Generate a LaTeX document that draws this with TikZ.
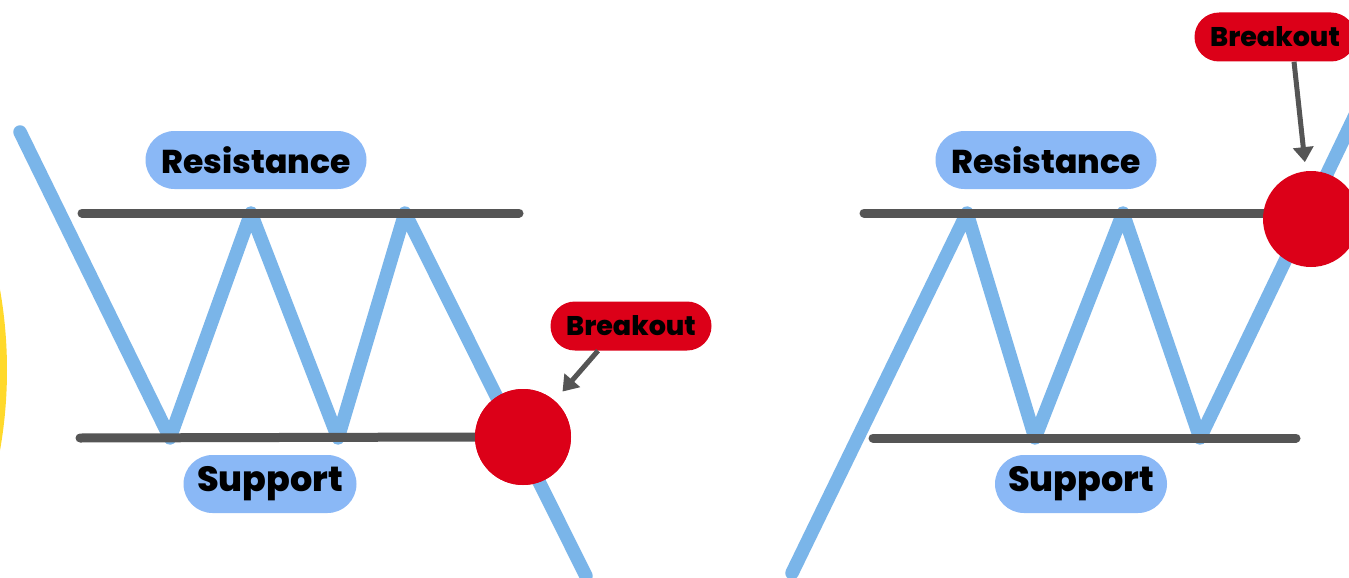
\documentclass[tikz,border=0pt]{standalone}
\usepackage{fontspec}
\newfontfamily\labelfont{Poppins}[BoldFont={Poppins ExtraBold}]
\usetikzlibrary{arrows.meta}
\definecolor{priceblue}{HTML}{7AB5E9}
\definecolor{pillblue}{HTML}{8AB8F6}
\definecolor{levelgray}{HTML}{555555}
\definecolor{breakred}{HTML}{DC0018}
\definecolor{sunyellow}{HTML}{FFD92B}
\tikzset{
  price/.style={draw=priceblue, line width=13.5pt, line cap=round, line join=round},
  level/.style={draw=levelgray, line width=9pt, line cap=round},
  pill/.style={fill=pillblue, rounded corners=29pt, minimum height=58pt, inner sep=0pt,
    font=\labelfont\bfseries\fontsize{33}{36}\selectfont},
  bigpill/.style={pill, font=\labelfont\bfseries\fontsize{35}{38}\selectfont},
  redpill/.style={fill=breakred, rounded corners=24.5pt, minimum height=49pt, inner sep=0pt,
    font=\labelfont\bfseries\fontsize{27}{30}\selectfont},
  dot/.style={circle, fill=breakred, minimum size=96pt, inner sep=0pt},
  pointer/.style={draw=levelgray, line width=5pt, -{Triangle[length=15pt,width=20pt]}},
}
\begin{document}
\begin{tikzpicture}[x=1pt, y=-1pt]
  \useasboundingbox (0,0) rectangle (1349,578);
  \fill[white] (0,0) rectangle (1349,578);

  % yellow disc peeking in at the left edge
  \fill[sunyellow] (-454,370) circle (461);

  % ---------- left panel: breakdown through support ----------
  \coordinate (lr1) at (82,213);
  \coordinate (lr2) at (519,213);
  \coordinate (ls1) at (80,438);
  \draw[price] (20,132) -- (170,438) -- (251,213) -- (338,438) -- (405,213) -- (586,576);
  \draw[level] (lr1) -- (lr2);
  \node[dot] (dotL) at (523,437) {};
  \draw[level] (ls1) -- (dotL.west);
  \node[dot] at (523,437) {};

  \node[pill, minimum width=221pt] (resL) at (256,160) {Resistance};
  \node[bigpill, minimum width=173pt] (supL) at (270,484) {Support};
  \node[redpill, minimum width=161pt] (bkL) at (631,326) {Breakout};
  \draw[pointer, shorten >=12pt] ([xshift=-33pt]bkL.south) -- (dotL);

  % ---------- right panel: breakout through resistance ----------
  \coordinate (rr1) at (864,213);
  \coordinate (rs1) at (873,438);
  \coordinate (rs2) at (1296,438);
  \draw[price] (792,573) -- (967,213) -- (1035,438) -- (1123,213) -- (1200,438) -- (1360,105);
  \draw[level] (rs1) -- (rs2);
  \draw[level] (rr1) -- (1300,213);
  \node[dot] (dotR) at (1311,219) {};

  \node[pill, minimum width=221pt] (resR) at (1046,160) {Resistance};
  \node[bigpill, minimum width=172pt] (supR) at (1081,484) {Support};
  \node[redpill, minimum width=161pt] (bkR) at (1275,37) {Breakout};
  \draw[pointer, shorten >=9pt] ([xshift=19pt]bkR.south) -- (dotR);
\end{tikzpicture}
\end{document}
